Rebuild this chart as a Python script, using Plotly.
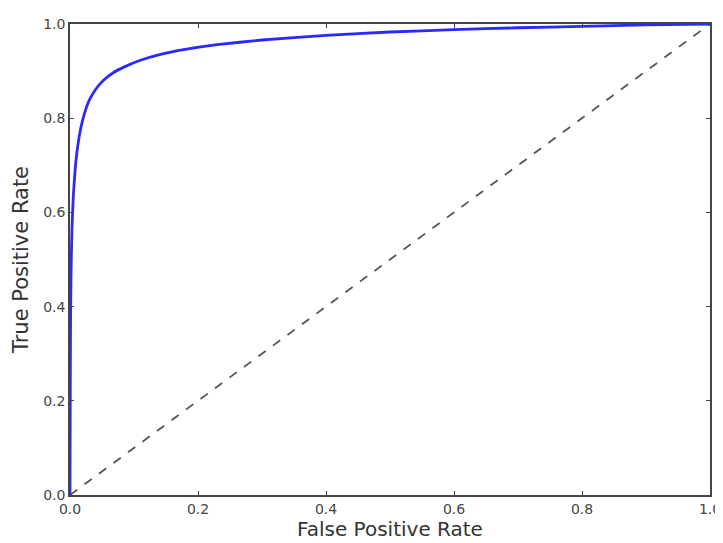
import plotly.graph_objects as go

fpr = [0.0, 0.0005, 0.001, 0.002, 0.003, 0.005, 0.008, 0.012, 0.017, 0.023, 0.030, 0.040,
       0.052, 0.067, 0.085, 0.11, 0.14, 0.18, 0.23, 0.30, 0.40, 0.50, 0.60, 0.70, 0.80, 0.90, 1.0]
tpr = [0.0, 0.25, 0.40, 0.50, 0.56, 0.63, 0.69, 0.74, 0.78, 0.812, 0.838, 0.861,
       0.880, 0.896, 0.909, 0.923, 0.935, 0.946, 0.956, 0.966, 0.976, 0.983, 0.988, 0.992, 0.995, 0.998, 1.0]
chance_x = [0.0, 1.0]
chance_y = [0.0, 1.0]
tick_vals = [0.0, 0.2, 0.4, 0.6, 0.8, 1.0]
tick_text = ["0.0", "0.2", "0.4", "0.6", "0.8", "1.0"]

fig = go.Figure()
fig.add_trace(go.Scatter(x=chance_x, y=chance_y, mode="lines",
                         line=dict(color="#555555", width=1.8, dash="dash"),
                         showlegend=False, hoverinfo="skip"))
fig.add_trace(go.Scatter(x=fpr, y=tpr, mode="lines",
                         line=dict(color="#2a2aff", width=2.8, shape="spline", smoothing=0.4),
                         showlegend=False))

axis_common = dict(
    range=[0, 1], tickvals=tick_vals, ticktext=tick_text, automargin=False,
    showgrid=False, zeroline=False, showline=True, linecolor="#444444", linewidth=1.5,
    mirror="ticks", ticks="inside", ticklen=4, tickcolor="#444444",
    tickfont=dict(family="DejaVu Sans", size=14, color="#444444"),
)
fig.update_xaxes(**axis_common,
                 title=dict(text="False Positive Rate", standoff=6,
                            font=dict(family="DejaVu Sans", size=20, color="#333333")))
fig.update_yaxes(**axis_common,
                 title=dict(text="True Positive Rate", standoff=9,
                            font=dict(family="DejaVu Sans", size=21, color="#333333")))

fig.update_layout(
    width=715, height=535,
    margin=dict(l=62, r=13, t=16, b=48),
    plot_bgcolor="white", paper_bgcolor="white",
    showlegend=False,
)

fig.write_html("out.html")
